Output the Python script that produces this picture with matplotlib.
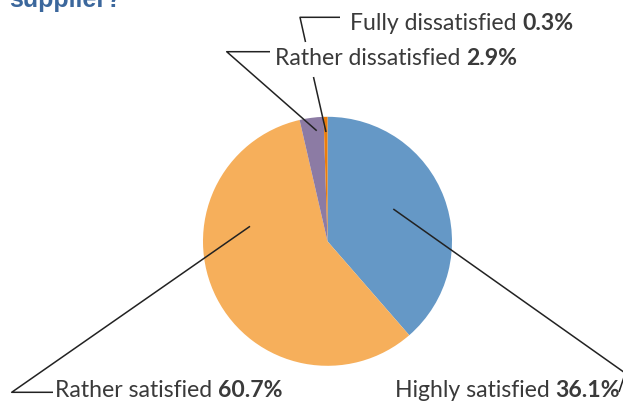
import matplotlib
matplotlib.use("Agg")
import matplotlib.pyplot as plt

# labels and printed percentages
categories = ["Highly satisfied", "Rather satisfied", "Rather dissatisfied", "Fully dissatisfied"]
pct_labels = ["36.1%", "60.7%", "2.9%", "0.3%"]
# slice sizes as drawn in the picture (clockwise from 12 o'clock)
slice_shares = [38.6, 57.8, 3.1, 0.5]
colors = ["#6598c6", "#f6af5b", "#8c7ba4", "#ec7d0a"]

# label anchors (left x, baseline y) in pixels
label_pos = [(395, 397), (55, 397), (275, 65), (350, 30.5)]

# leader lines (pixel polylines)
leaders = [
    [(393.3, 210), (635, 381)],
    [(619, 393), (624, 378)],
    [(53, 393.3), (11.7, 393.3), (250, 227.3)],
    [(270, 52.7), (226.7, 52.7), (316.7, 131.7)],
    [(340, 18.3), (300, 18.3), (305.5, 43)],
    [(313.5, 78), (326, 133)],
]

W, H = 623, 402
fig = plt.figure(figsize=(W / 100, H / 100), dpi=100)
ax = fig.add_axes([0, 0, 1, 1])

# pie in pixel coords (y axis inverted, so counterclock=True reads clockwise)
ax.pie(slice_shares, colors=colors, startangle=-90, counterclock=True,
       center=(327.5, 242.3), radius=124.5,
       wedgeprops=dict(linewidth=0, antialiased=True))
ax.set_xlim(0, W)
ax.set_ylim(H, 0)
ax.set_aspect("auto")
ax.axis("off")

for pts in leaders:
    xs = [p[0] for p in pts]
    ys = [p[1] for p in pts]
    ax.plot(xs, ys, color="#222222", lw=1.1, solid_capstyle="butt")

txt_color = "#3a3a3a"
fs = 16.6
for name, pct, (x, y) in zip(categories, pct_labels, label_pos):
    t = ax.text(x, y, name + " ", fontsize=fs, family="Lato", fontweight="normal",
                color=txt_color, ha="left", va="baseline")
    ax.annotate(pct, xy=(1, 0), xycoords=t, fontsize=fs, family="Lato",
                fontweight="bold", color=txt_color, ha="left", va="bottom")

# title, cropped at the top edge
ax.text(9, 7.3, "supplier?", fontsize=18, family="Liberation Sans", fontweight="bold",
        color="#3b679c", ha="left", va="baseline")

fig.savefig("out.png", dpi=100)
